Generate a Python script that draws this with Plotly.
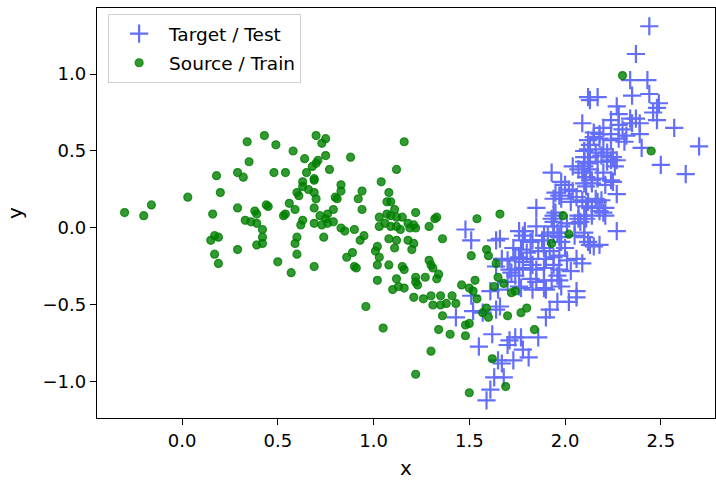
import plotly.graph_objects as go

# Source / Train (green circles)
src_x = [-0.30, -0.20, -0.16, 0.03, 0.18, 0.20, 0.16, 0.29, 0.32, 0.34, 0.35, 0.29, 0.33, 0.36,
         0.17, 0.19, 0.15, 0.17, 0.19, 0.29, 0.43, 0.49, 0.58, 0.70, 0.73, 0.75, 0.64, 0.75, 0.88,
         0.68, 0.70, 0.71, 0.77, 0.48, 0.54, 0.65, 1.12, 0.69, 0.69, 0.63, 0.63, 0.83, 0.83, 1.04,
         0.94, 0.60, 0.61, 0.66, 0.69, 0.70, 0.80, 0.81, 0.92, 1.08, 1.07, 1.09, 0.45, 0.44, 0.56,
         0.59, 0.69, 0.79, 0.94, 0.38, 0.39, 0.53, 0.54, 0.72, 0.76, 0.75, 1.07, 1.09, 1.11, 1.12,
         1.03, 0.39, 0.63, 0.62, 0.69, 0.73, 0.76, 0.79, 1.03, 1.06, 1.09, 1.12, 0.42, 0.42, 0.83,
         0.85, 0.90, 0.74, 0.95, 0.93, 0.60, 0.59, 0.39, 0.42, 1.08, 1.12, 1.02, 1.01, 1.03, 1.11,
         0.60, 0.89, 0.86, 0.50, 0.69, 0.90, 0.91, 1.02, 1.08, 0.57, 1.12, 1.02, 1.10, 1.13, 0.96,
         1.05, 1.16, 1.15, 1.14, 1.22, 1.18, 1.21, 1.19, 1.22, 1.29, 1.32, 1.33, 1.18, 1.21, 1.20,
         1.36, 1.54, 1.66, 1.51, 1.59, 1.60, 1.64, 1.15, 1.16, 1.29, 1.30, 1.31, 1.34, 1.33, 1.27,
         1.22, 1.22, 1.23, 1.16, 1.21, 1.26, 1.30, 1.31, 1.35, 1.35, 1.38, 1.41, 1.43, 1.36, 1.46,
         1.53, 1.50, 1.52, 1.54, 1.65, 1.63, 1.68, 1.59, 1.57, 1.60, 1.70, 1.48, 1.50, 1.48, 1.34,
         1.40, 1.30, 1.62, 1.22, 1.69, 1.50, 2.02, 1.93, 1.74, 1.72, 1.80, 1.77, 1.84, 1.99, 2.30,
         2.45]
src_y = [0.10, 0.08, 0.15, 0.20, 0.34, 0.23, 0.09, 0.36, 0.33, 0.56, 0.43, 0.13, 0.05, 0.04,
         -0.05, -0.06, -0.08, -0.17, -0.23, -0.14, 0.60, 0.54, 0.50, 0.60, 0.55, 0.58, 0.45, 0.47,
         0.46, 0.40, 0.42, 0.44, 0.38, 0.36, 0.36, 0.36, 0.38, 0.32, 0.31, 0.30, 0.27, 0.28, 0.24,
         0.30, 0.24, 0.23, 0.21, 0.25, 0.23, 0.19, 0.20, 0.19, 0.19, 0.23, 0.17, 0.17, 0.14, 0.15,
         0.16, 0.12, 0.13, 0.12, 0.12, 0.11, 0.09, 0.08, 0.09, 0.08, 0.09, 0.06, 0.09, 0.08, 0.12,
         0.07, 0.07, 0.03, 0.05, 0.02, 0.03, 0.02, 0.03, 0.04, 0.01, 0.03, 0.01, 0.01, -0.01, -0.06,
         0.00, -0.02, -0.01, -0.06, -0.05, -0.08, -0.06, -0.10, -0.11, -0.10, -0.07, -0.08, -0.12,
         -0.15, -0.19, -0.13, -0.17, -0.16, -0.19, -0.22, -0.25, -0.25, -0.26, -0.24, -0.24, -0.29,
         -0.33, -0.34, -0.40, -0.38, -0.51, -0.65, 0.56, 0.07, -0.01, 0.10, 0.03, 0.02, 0.00, 0.00,
         0.01, 0.06, 0.07, -0.08, -0.10, -0.14, -0.07, 0.06, 0.09, -0.18, -0.14, -0.18, -0.23,
         -0.25, -0.27, -0.21, -0.24, -0.26, -0.30, -0.33, -0.32, -0.32, -0.35, -0.37, -0.39, -0.45,
         -0.46, -0.44, -0.50, -0.50, -0.44, -0.49, -0.44, -0.49, -0.57, -0.37, -0.34, -0.39, -0.41,
         -0.46, -0.32, -0.38, -0.36, -0.52, -0.55, -0.58, -0.57, -0.63, -0.62, -0.70, -0.66, -0.69,
         -0.80, -0.85, -0.95, -1.03, -1.07, -0.04, -0.10, -0.41, -0.42, -0.52, -0.55, -0.66, 0.08,
         0.99, 0.50]

# Target / Test (blue crosses)
tgt_x = [2.44, 2.37, 2.34, 2.43, 2.35, 2.44, 2.12, 2.17, 2.13, 2.49, 2.48, 2.46, 2.27, 2.28,
         2.09, 2.24, 2.28, 2.34, 2.37, 2.35, 2.39, 2.48, 2.57, 2.15, 2.18, 2.20, 2.30, 2.39, 2.15,
         2.32, 2.28, 2.12, 2.24, 2.31, 2.40, 2.10, 2.20, 2.19, 2.25, 2.10, 2.13, 2.50, 2.70, 2.63,
         2.27, 2.26, 2.22, 2.22, 2.20, 2.25, 2.27, 2.20, 2.21, 2.27, 2.19, 2.18, 2.24, 2.18, 2.13,
         2.12, 2.10, 2.12, 2.17, 2.24, 1.93, 2.04, 2.07, 2.11, 2.14, 2.10, 2.17, 2.24, 2.21, 1.98,
         2.00, 2.02, 1.97, 1.98, 2.04, 2.06, 2.09, 2.12, 2.16, 2.17, 2.14, 2.18, 1.85, 1.94, 1.93,
         2.07, 2.08, 2.05, 1.79, 1.85, 1.94, 1.96, 1.91, 2.10, 1.95, 1.94, 2.03, 2.10, 2.09, 2.13,
         2.14, 2.11, 2.16, 2.11, 2.21, 1.95, 2.07, 2.10, 2.14, 1.78, 1.88, 1.83, 1.94, 1.98, 2.01,
         2.11, 2.05, 2.12, 2.15, 1.66, 1.73, 1.77, 1.70, 1.74, 1.80, 1.82, 1.86, 1.89, 1.92, 1.94,
         1.90, 1.97, 2.00, 2.01, 2.06, 2.09, 1.83, 1.78, 1.85, 1.89, 1.94, 1.97, 1.96, 1.71, 1.74,
         1.70, 1.82, 1.85, 1.89, 1.97, 1.98, 2.03, 2.06, 1.76, 1.77, 1.90, 1.82, 1.78, 1.89, 1.94,
         1.97, 1.98, 2.10, 2.13, 1.78, 1.76, 1.93, 1.83, 1.89, 2.06, 2.02, 1.96, 1.92, 1.90, 1.74,
         1.77, 1.71, 1.86, 1.78, 1.81, 1.73, 1.48, 1.51, 1.64, 1.76, 1.67, 1.64, 1.72, 1.76, 1.51,
         1.61, 1.65, 1.66, 1.64, 1.43, 1.52, 1.57, 1.62, 1.55, 1.70, 1.65, 1.67, 1.63, 1.68, 1.61,
         1.59]
tgt_y = [1.31, 1.13, 0.96, 0.96, 0.86, 0.87, 0.85, 0.85, 0.83, 0.81, 0.78, 0.75, 0.79, 0.74,
         0.68, 0.70, 0.67, 0.71, 0.71, 0.68, 0.68, 0.70, 0.65, 0.62, 0.61, 0.65, 0.64, 0.61, 0.59,
         0.60, 0.58, 0.57, 0.57, 0.56, 0.52, 0.50, 0.51, 0.47, 0.46, 0.46, 0.46, 0.41, 0.53, 0.35,
         0.44, 0.40, 0.49, 0.43, 0.36, 0.30, 0.22, 0.10, 0.08, -0.02, 0.18, -0.11, 0.61, 0.58, 0.54,
         0.51, 0.43, 0.42, 0.43, 0.44, 0.36, 0.40, 0.38, 0.33, 0.31, 0.29, 0.32, 0.31, 0.28, 0.30,
         0.28, 0.25, 0.21, 0.19, 0.24, 0.20, 0.18, 0.17, 0.19, 0.17, 0.13, 0.11, 0.13, 0.08, 0.06,
         0.06, 0.04, 0.03, -0.02, 0.01, 0.01, -0.03, -0.05, -0.03, 0.23, 0.19, 0.17, 0.40, 0.36,
         0.38, 0.29, 0.27, 0.49, 0.14, 0.13, 0.10, 0.08, 0.08, 0.08, -0.05, -0.08, -0.08, 0.04,
         0.01, 0.03, 0.06, -0.05, -0.09, -0.12, -0.07, -0.13, -0.14, -0.21, -0.20, -0.16, -0.20,
         -0.15, -0.13, -0.15, -0.19, -0.20, -0.18, -0.13, -0.21, -0.20, -0.23, -0.24, -0.26, -0.27,
         -0.26, -0.24, -0.27, -0.31, -0.27, -0.31, -0.35, -0.33, -0.35, -0.34, -0.34, -0.38, -0.28,
         -0.41, -0.38, -0.39, -0.40, -0.09, -0.08, -0.05, -0.03, -0.06, -0.09, -0.06, -0.11, -0.22,
         -0.27, -0.34, -0.40, -0.39, -0.45, -0.48, -0.48, -0.53, -0.58, -0.71, -0.71, -0.73, -0.71,
         -0.79, -0.84, -0.86, -0.01, -0.08, -0.08, -0.02, -0.20, -0.25, -0.29, -0.19, -0.44, -0.41,
         -0.40, -0.51, -0.53, -0.58, -0.54, -0.55, -0.69, -0.77, -0.76, -0.86, -0.88, -0.97, -0.97,
         -1.05, -1.12]

x_ticks = [0.0, 0.5, 1.0, 1.5, 2.0, 2.5]
y_ticks = [-1.0, -0.5, 0.0, 0.5, 1.0]

FONT = "DejaVu Sans"

fig = go.Figure()
fig.add_trace(go.Scatter(
    x=tgt_x, y=tgt_y, mode="markers", name="Target / Test", legendgroup="a",
    marker=dict(symbol="cross-thin-open", size=13,
                line=dict(color="rgba(0,0,255,0.68)", width=2.2)),
))
fig.add_trace(go.Scatter(
    x=src_x, y=src_y, mode="markers", name="Source / Train", legendgroup="b",
    marker=dict(symbol="circle", size=8, color="rgba(0,128,0,0.8)",
                line=dict(color="rgba(0,128,0,0.8)", width=1.2)),
))

axis_common = dict(
    showline=True, mirror=True, linecolor="black", linewidth=1.3,
    showgrid=False, zeroline=False,
    ticks="outside", ticklen=6, tickwidth=1.3, tickcolor="black",
    tickfont=dict(family=FONT, size=18, color="black"),
    tickformat=".1f",
)

fig.update_layout(
    width=716, height=480,
    margin=dict(l=97, r=1, t=8, b=62),
    paper_bgcolor="white", plot_bgcolor="white",
    font=dict(family=FONT, size=18, color="black"),
    xaxis=dict(range=[-0.444, 2.783], tickvals=x_ticks,
               title=dict(text="x", font=dict(family=FONT, size=20), standoff=12),
               **axis_common),
    yaxis=dict(range=[-1.234, 1.4286], tickvals=y_ticks,
               title=dict(text="y", font=dict(family=FONT, size=20), standoff=14),
               **axis_common),
    legend=dict(x=0.018, y=0.985, xanchor="left", yanchor="top",
                bgcolor="rgba(255,255,255,0.8)", bordercolor="#d0d0d0", borderwidth=1,
                font=dict(family=FONT, size=18.5), traceorder="grouped", tracegroupgap=2,
                itemwidth=50),
    showlegend=True,
)

fig.write_html("out.html")
